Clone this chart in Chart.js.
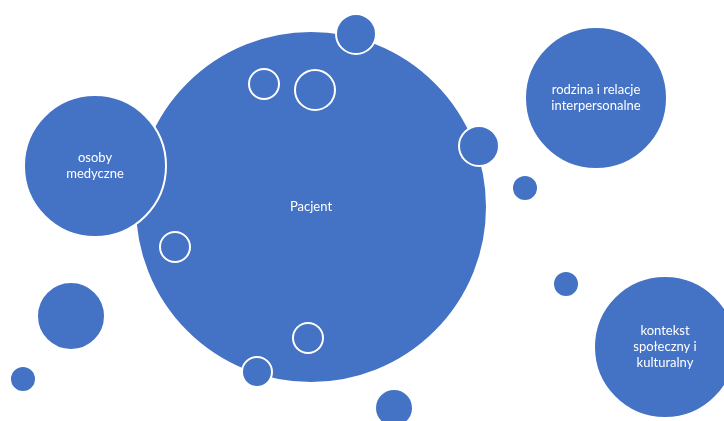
<!DOCTYPE html>
<html>
<head>
<meta charset="utf-8">
<script src="https://cdn.jsdelivr.net/npm/chart.js@4/dist/chart.umd.min.js"></script>
<style>
  html, body { margin: 0; padding: 0; background: #fff; overflow: hidden; }
  canvas { display: block; }
</style>
</head>
<body>
<canvas id="chart" width="724" height="421"></canvas>
<script>
document.addEventListener('DOMContentLoaded', () => {
    // bubbles, in drawing order (first = bottom)
    const labels = ['Pacjent', '', '', '', '', '', '', '', 'osoby medyczne', 'rodzina i relacje\ninterpersonalne',
        'kontekst\nspołeczny i\nkulturalny', '', '', '', '', ''];
    const xValues = [311, 264, 315, 175, 308, 356, 479, 257, 95, 596, 665, 525, 71, 23, 566, 394];
    const yValues = [207, 84, 90, 247, 338, 34, 146, 372, 166, 98, 347, 188, 316, 379, 284, 408];
    const radii = [176, 15, 20, 15, 15, 20, 20, 15, 71, 71, 71, 13, 34, 13, 13, 19];
    const hollow = [false, true, true, true, true, false, false, false, false, false, false, false, false, false, false, false];

    const blue = '#4472C4';

    const bubbleLabels = {
        id: 'bubbleLabels',
        afterDatasetsDraw(chart) {
            const ctx = chart.ctx;
            const meta = chart.getDatasetMeta(0);
            ctx.save();
            ctx.fillStyle = '#ffffff';
            ctx.font = '13px Lato';
            ctx.textAlign = 'center';
            ctx.textBaseline = 'middle';
            meta.data.forEach((pt, i) => {
                if (!labels[i]) return;
                // "osoby medyczne" wraps onto two lines in the picture
                const lines = labels[i].replace('osoby ', 'osoby\n').split('\n');
                const lh = 16;
                const top = pt.y - (lines.length - 1) * lh / 2;
                lines.forEach((line, j) => ctx.fillText(line, pt.x, top + j * lh));
            });
            ctx.restore();
        }
    };

    new Chart(document.getElementById('chart').getContext('2d'), {
        type: 'bubble',
        data: {
            datasets: [{
                data: xValues.map((x, i) => ({ x: x, y: yValues[i], r: radii[i] })),
                backgroundColor: hollow.map(h => h ? 'rgba(0,0,0,0)' : blue),
                borderColor: '#ffffff',
                borderWidth: 2,
                clip: false
            }]
        },
        options: {
            responsive: false,
            animation: false,
            events: [],
            layout: { padding: 0, autoPadding: false },
            plugins: { legend: { display: false }, tooltip: { enabled: false } },
            scales: {
                x: { type: 'linear', min: 0, max: 724, display: false },
                y: { type: 'linear', min: 0, max: 421, reverse: true, display: false }
            }
        },
        plugins: [bubbleLabels]
    });
});
</script>
</body>
</html>
